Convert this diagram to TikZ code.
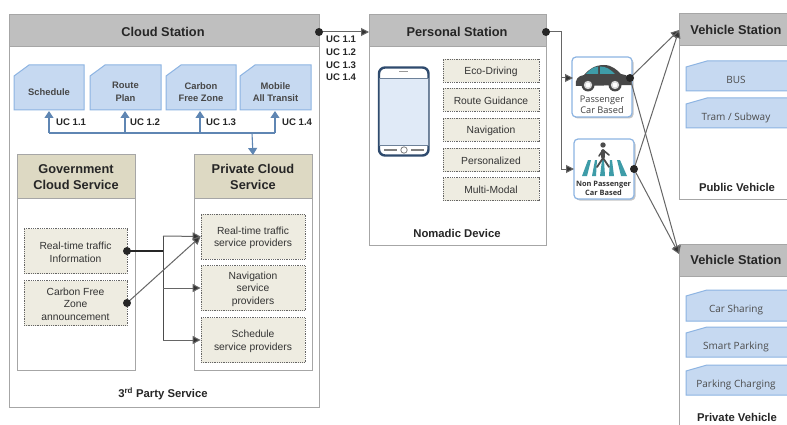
\documentclass[tikz,border=0pt]{standalone}
\usepackage{fontspec}
\setmainfont{Liberation Sans}
\newfontfamily\lblfont{Open Sans}
\usetikzlibrary{arrows.meta,shadows}
\definecolor{hdrgray}{HTML}{BFBFBF}
\definecolor{hdrtan}{HTML}{DDD9C3}
\definecolor{panelline}{HTML}{A6A6A6}
\definecolor{cardfill}{HTML}{C6D9F1}
\definecolor{cardline}{HTML}{8DB4E2}
\definecolor{dotfill}{HTML}{EEECE1}
\definecolor{ucblue}{HTML}{5F86B3}
\definecolor{inkdark}{HTML}{262626}
\definecolor{phoneline}{HTML}{2F4B6E}
\definecolor{teal}{HTML}{3E9CA8}
\tikzset{
  panel/.style={draw=panelline,line width=1pt,fill=white},
  headgray/.style={draw=panelline,line width=1pt,fill=hdrgray},
  headtan/.style={draw=panelline,line width=1pt,fill=hdrtan},
  title/.style={font=\bfseries\fontsize{12.8}{15.5}\selectfont,text=inkdark,align=center,inner sep=0pt},
  captionlbl/.style={font=\bfseries\fontsize{11.3}{13}\selectfont,text=inkdark,align=center,inner sep=0pt},
  cardlbl/.style={font=\bfseries\fontsize{9.4}{12.7}\selectfont,text=black!72,align=center,inner sep=0pt},
  vehlbl/.style={font=\lblfont\fontsize{10}{12}\selectfont,text=black!70,align=center,inner sep=0pt},
  dotbox/.style={draw=black!60,densely dotted,line width=.8pt,fill=dotfill,inner sep=0pt},
  dotlbl/.style={inner sep=0pt,align=center,font=\fontsize{10.3}{12.7}\selectfont,text=black!80,yshift=-1.2pt},
  uclbl/.style={font=\bfseries\fontsize{9.6}{12.6}\selectfont,text=inkdark,align=left,inner sep=0pt},
  ucarrow/.style={draw=ucblue,line width=1.1pt,-{Triangle[length=7pt,width=9pt]}},
  ucline/.style={draw=ucblue,line width=1.1pt},
  link/.style={draw=black!60,line width=1pt,-{Triangle[length=8pt,width=8pt,fill=black!80]}},
  linkdark/.style={draw=black!85,line width=1.4pt},
  blob/.style={circle,fill=black!85,minimum size=8pt,inner sep=0pt},
  modebox/.style={draw=cardline,line width=1.2pt,rounded corners=4pt,fill=white,drop shadow={shadow xshift=1.5pt,shadow yshift=-1.5pt,opacity=.45}},
}
% name x0 y0 x1 y1 snipx snipy text style
\newcommand{\snipcard}[9]{%
  \draw[draw=cardline,line width=1pt,fill=cardfill] (#2,{#3+#7}) -- ({#2+#6},#3) -- (#4,#3) -- (#4,#5) -- (#2,#5) -- cycle;
  \node[#9] (#1) at ({(#2+#4)/2},{(#3+#5)/2}) {#8};
}
\newcommand{\dotat}[6]{\node[dotbox,minimum width=#4pt,minimum height=#5pt] (#1) at (#2,#3) {};
  \node[dotlbl] (#1txt) at (#2,#3) {#6};}
\begin{document}
\begin{tikzpicture}[x=1pt,y=-1pt]
\useasboundingbox[fill=white] (0,0) rectangle (787,425);
\begin{scope}
\clip (0,0) rectangle (787,425);
% Cloud Station
\draw[panel] (9,15) rectangle (319,407);
\draw[headgray] (9,15) rectangle (319,47);
\node[title] (cloud) at (163,32) {Cloud Station};
\snipcard{sch}{14}{65}{84}{110}{15}{11}{Schedule}{cardlbl,yshift=-4.5pt}
\snipcard{route}{90}{65}{161}{110}{15}{11}{Route\\Plan}{cardlbl,yshift=-4.5pt}
\snipcard{carbon}{166}{65}{236}{110}{15}{11}{Carbon\\Free Zone}{cardlbl,yshift=-4.5pt}
\snipcard{mobile}{240}{65}{311}{110}{15}{11}{Mobile\\All Transit}{cardlbl,yshift=-4.5pt}
% Gov / private
\draw[panel] (17,155) rectangle (135,370);
\draw[headtan] (17,155) rectangle (135,198);
\node[title] (gov) at (76,177) {Government\\Cloud Service};
\draw[panel] (194,155) rectangle (312,370);
\draw[headtan] (194,155) rectangle (312,198);
\node[title] (priv) at (253,177) {Private Cloud\\Service};
\coordinate (privtop) at (253,155);
\dotat{rti}{75.5}{251}{103}{45}{Real-time traffic\\Information}
\dotat{cfz}{75.5}{303}{103}{45}{Carbon Free\\Zone\\announcement}
\dotat{rtp}{253}{236.5}{104}{45}{Real-time traffic\\service providers}
\dotat{nsp}{253}{288}{104}{45}{Navigation\\service\\providers}
\dotat{ssp}{253}{340}{104}{45}{Schedule\\service providers}
\node[captionlbl] (third) at (163,394) {3\textsuperscript{rd} Party Service};
% UC bus
\coordinate (busR) at (252,133);
\draw[ucline] (49,133) -- (275,133);
\draw[ucarrow] (49,133) -- (49,111);
\draw[ucarrow] (125,133) -- (125,111);
\draw[ucarrow] (200,133) -- (200,111);
\draw[ucarrow] (275,133) -- (275,111);
\draw[ucarrow] (busR) -- (privtop);
\node[uclbl,anchor=west] (u1) at (56,122) {UC 1.1};
\node[uclbl,anchor=west] (u2) at (130,122) {UC 1.2};
\node[uclbl,anchor=west] (u3) at (206,122) {UC 1.3};
\node[uclbl,anchor=west] (u4) at (282,122) {UC 1.4};
% gov -> private connectors
\coordinate (rtidot) at (127,251);
\coordinate (cfzdot) at (127,303);
\coordinate (jn) at (163,251);
\draw[linkdark] (rtidot) -- (jn);
\draw[draw=black!70,line width=1pt] (163,236) -- (163,340);
\draw[link] (163,236) -- (rtp.west);
\draw[link] (163,288) -- (nsp.west);
\draw[link] (163,340) -- (ssp.west);
\draw[link] (cfzdot) -- (rtp.west);
\node[blob] (b1) at (rtidot) {};
\node[blob] (b2) at (cfzdot) {};
% Personal Station
\draw[panel] (369,15) rectangle (546,245);
\draw[headgray] (369,15) rectangle (546,47);
\node[title] (pers) at (457,32) {Personal Station};
\draw[link] (319,32) -- (pers.west -| 369,32);
\node[blob] (b3) at (319,32) {};
\node[uclbl,anchor=north west] (ucs) at (326,36) {UC 1.1\\UC 1.2\\UC 1.3\\UC 1.4};
% phone
\draw[draw=phoneline,line width=2.4pt,rounded corners=6pt,fill=white] (379,67.5) rectangle (428.5,155.5);
\draw[draw=phoneline!70,line width=.8pt,fill=cardfill!55] (379,78) rectangle (428.5,145);
\draw[black!40,line width=1pt] (399,72) -- (408,72);
\draw[black!50,line width=1.2pt] (384,150) -- (397,150) (411,150) -- (424,150);
\draw[black!50,fill=white,line width=.8pt] (404,150) circle (3.2);
\dotat{eco}{491}{71}{96}{23}{Eco-Driving}
\dotat{guid}{491}{100}{96}{23}{Route Guidance}
\dotat{navi}{491}{130}{96}{23}{Navigation}
\dotat{pers2}{491}{160}{96}{23}{Personalized}
\dotat{multi}{491}{189}{96}{23}{Multi-Modal}
\node[captionlbl] (nom) at (457,233) {Nomadic Device};
% Mode boxes
\node[modebox,minimum width=60pt,minimum height=60pt,inner sep=0pt] (pcar) at (602,87) {};
\node[modebox,minimum width=60pt,minimum height=60pt,inner sep=0pt] (npcar) at (604,169) {};
% car
\fill[black!72] (576,86) .. controls (575,79) and (578,76) .. (584,75) .. controls (589,69) and (595,65) .. (604,65)
  .. controls (612,65) and (617,70) .. (621,74) .. controls (628,75) and (632,78) .. (632,85) -- (576,86) -- cycle;
\fill[teal] (586,74) .. controls (590,69) and (594,67) .. (598,66.5) -- (598,74) -- cycle;
\fill[teal] (600,66.5) .. controls (606,66.5) and (610,69) .. (615,74) -- (600,74) -- cycle;
\foreach \cx in {588,615}{
  \fill[black!72] (\cx,85) circle (6.5);
  \fill[black!15] (\cx,85) circle (4.2);
  \fill[white] (\cx,85) circle (2.4);
}
\node[font=\lblfont\fontsize{9.2}{11}\selectfont,text=black!75,align=center,inner sep=0pt] (pcarlbl) at (602,105) {Passenger\\Car Based};
% pedestrian
\foreach \a/\b/\c/\d in {588/591/582/587, 595/597/592/596, 602/604/600/605, 610/612/609/614, 617/620/621/627}{
  \fill[teal] (\a,160) -- (\b,160) -- (\d,176) -- (\c,176) -- cycle;
}
\fill[black!70] (603,145) circle (2.7);
\draw[black!70,line width=3.4pt,line cap=round] (603,151) -- (603,157);
\draw[black!70,line width=1.8pt,line cap=round] (603,158) -- (597,167) (603,158) -- (609,167);
\draw[black!70,line width=1.6pt,line cap=round] (603,150) -- (599,156) (603,150) -- (609,155);
\node[font=\lblfont\bfseries\fontsize{7.4}{9}\selectfont,text=black!80,align=center,inner sep=0pt] (npcarlbl) at (603.5,188) {Non Passenger\\Car Based};
% Vehicle stations
\draw[panel] (679,14) rectangle (800,199);
\draw[headgray] (679,14) rectangle (800,46);
\node[title] (v1) at (736,30) {Vehicle Station};
\snipcard{bus}{686}{61}{800}{91}{21}{6}{}{vehlbl}
\node[vehlbl] (buslbl) at (736,80) {BUS};
\snipcard{tram}{686}{98}{800}{128}{21}{6}{}{vehlbl}
\node[vehlbl] (tramlbl) at (736,117.5) {Tram / Subway};
\node[captionlbl] (pub) at (737,187) {Public Vehicle};
\draw[panel] (679,244) rectangle (800,440);
\draw[headgray] (679,244) rectangle (800,276);
\node[title] (v2) at (736,260) {Vehicle Station};
\snipcard{share}{686}{290}{800}{321}{21}{6}{}{vehlbl}
\node[vehlbl] (sharelbl) at (736,309.5) {Car Sharing};
\snipcard{smart}{686}{327}{800}{357}{21}{6}{}{vehlbl}
\node[vehlbl] (smartlbl) at (736,346.5) {Smart Parking};
\snipcard{charge}{686}{365}{800}{395}{21}{6}{}{vehlbl}
\node[vehlbl] (chargelbl) at (736,384.5) {Parking Charging};
\node[captionlbl] (prv) at (737,417.5) {Private Vehicle};
% Personal -> modes
\coordinate (persdot) at (546,32);
\coordinate (drop) at (561,32);
\coordinate (pcarin) at (573,78);
\coordinate (npin) at (574,169);
\draw[draw=black!60,line width=1pt] (persdot) -- (drop) -- (561,169);
\draw[link] (561,78) -- (pcarin);
\draw[link] (561,169) -- (npin);
\node[blob] (b4) at (persdot) {};
% modes -> vehicle stations
\coordinate (pd) at (630,78);
\coordinate (nd) at (634,169);
\coordinate (v1in) at (679,30);
\coordinate (v2in) at (679,254);
\draw[link] (pd) -- (v1in);
\draw[link] (pd) -- (v2in);
\draw[link] (nd) -- (v1in);
\draw[link] (nd) -- (v2in);
\node[blob] (b5) at (pd) {};
\node[blob] (b6) at (nd) {};
\end{scope}
\end{tikzpicture}
\end{document}
